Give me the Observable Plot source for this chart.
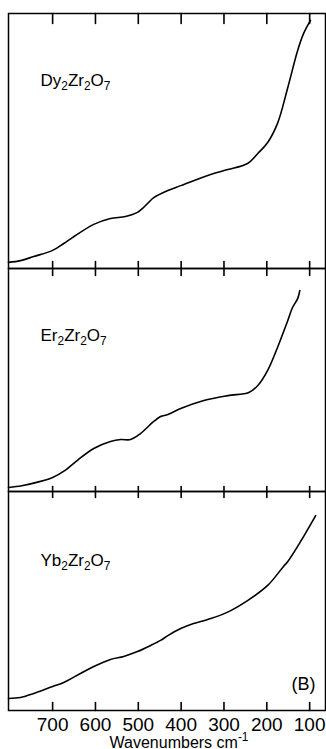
<!DOCTYPE html>
<html><head><meta charset="utf-8">
<script src="https://cdn.jsdelivr.net/npm/d3@7"></script>
<script src="https://cdn.jsdelivr.net/npm/@observablehq/plot@0.6"></script>
<style>
html,body{margin:0;padding:0;background:#fff;}
#chart{width:326px;}
#chart svg{display:block;overflow:visible;}
</style></head><body><div id="chart"></div>
<script>
const xTicks = [700, 600, 500, 400, 300, 200, 100];
const xDomain = [803, 63];

const dyWavenumber = [803,775,744,700,674,653,604,565,530,502,488,476,464,431,401,331,291,245,221,198,175,151,128,114,98];
const dyTransmission = [2.4,3.1,4.7,7.1,9.8,12.2,17.3,19.6,20.4,22.0,23.9,25.9,27.8,30.6,32.5,36.9,38.8,41.2,45.1,49.4,56.9,71.0,85.5,92.2,97.3];

const erWavenumber = [803,772,735,700,670,642,604,565,541,518,495,464,448,431,401,347,291,242,221,198,175,151,140,128,123];
const erTransmission = [1.8,2.6,4.2,6.3,9.6,14.0,19.3,22.4,23.3,23.3,26.0,31.4,33.6,34.5,37.2,40.8,43.0,44.4,47.5,54.3,64.6,76.7,82.5,86.5,90.1];

const ybWavenumber = [803,775,744,700,674,635,604,565,534,502,471,448,431,401,371,338,294,245,198,161,151,121,86];
const ybTransmission = [5.5,5.9,7.8,11.0,12.8,16.9,20.1,23.3,24.7,26.9,29.7,32.0,34.2,37.4,39.7,41.6,44.7,50.2,57.1,65.8,68.0,77.2,89.0];

const panelLabels = ["Dy₂Zr₂O₇", "Er₂Zr₂O₇", "Yb₂Zr₂O₇"];
const panelTag = "(B)";
const xLabel = "Wavenumbers cm⁻¹";

const font = "'Liberation Sans', Arial, Helvetica, sans-serif";

function panel(o) {
  const data = o.wave.map((w, i) => ({w, t: o.value[i]}));
  const inner = o.height - o.marginTop - o.marginBottom;
  // tick lengths expressed in y-scale units (domain 0..100 spans the panel)
  const topLen = o.topTick / inner * 100;
  const botLen = o.bottomTick / inner * 100;
  const tickRows = xTicks.flatMap(w => [
    {w, t: 100, k: "top" + w}, {w, t: 100 - topLen, k: "top" + w},
    {w, t: 0, k: "bot" + w}, {w, t: botLen, k: "bot" + w}
  ]);
  const marks = [
    Plot.frame({stroke: "black", strokeWidth: 1.5}),
    Plot.line(tickRows, {x: "w", y: "t", z: "k", stroke: "black", strokeWidth: 1.6}),
    Plot.line(data, {x: "w", y: "t", curve: "catmull-rom", stroke: "black", strokeWidth: 1.6}),
    Plot.text([o.label], {frameAnchor: "top-left", textAnchor: "start", lineAnchor: "bottom", dx: 32, dy: o.labelDy, fontSize: 17, fill: "black"})
  ];
  if (o.extra) marks.push(...o.extra);
  return Plot.plot({
    width: 326,
    height: o.height,
    marginLeft: 8,
    marginRight: 1,
    marginTop: o.marginTop,
    marginBottom: o.marginBottom,
    x: {domain: xDomain, axis: null},
    y: {domain: [0, 100], axis: null},
    style: {fontFamily: font, fontSize: "17px", background: "transparent", overflow: "visible", color: "black"},
    marks
  });
}

const chart = document.getElementById("chart");
chart.append(panel({wave: dyWavenumber, value: dyTransmission, label: panelLabels[0], height: 268, marginTop: 13, marginBottom: 0, topTick: 10, bottomTick: 7, labelDy: 72}));
chart.append(panel({wave: erWavenumber, value: erTransmission, label: panelLabels[1], height: 223, marginTop: 0, marginBottom: 0, topTick: 7, bottomTick: 5, labelDy: 72}));
chart.append(panel({wave: ybWavenumber, value: ybTransmission, label: panelLabels[2], height: 258, marginTop: 0, marginBottom: 39, topTick: 6, bottomTick: 8, labelDy: 74,
  extra: [
    Plot.axisX(xTicks, {anchor: "bottom", tickSize: 0, tickPadding: 7, fontSize: 19, label: null, tickFormat: d => String(d), fill: "black"}),
    Plot.text([panelTag], {frameAnchor: "bottom-right", textAnchor: "end", lineAnchor: "bottom", dx: -10, dy: -21, fontSize: 18, fill: "black"}),
    Plot.text([xLabel], {frameAnchor: "bottom", lineAnchor: "bottom", dx: 12, dy: 37, fontSize: 16, fill: "black"})
  ]}));

// Typeset Unicode subscript / superscript characters as shifted tspans
const subMap = {"₀":"0","₁":"1","₂":"2","₃":"3","₄":"4","₅":"5","₆":"6","₇":"7","₈":"8","₉":"9"};
const supMap = {"⁻":"-","¹":"1"};
chart.querySelectorAll("text").forEach(t => {
  if (t.children.length) return;
  const s = t.textContent;
  if (![...s].some(c => subMap[c] || supMap[c])) return;
  const fs = parseFloat(t.getAttribute("font-size")) || 17;
  t.textContent = "";
  let shift = 0;
  const runs = [];
  for (const c of s) {
    const kind = subMap[c] ? "sub" : supMap[c] ? "sup" : "n";
    const ch = subMap[c] || supMap[c] || c;
    if (runs.length && runs[runs.length - 1].kind === kind) runs[runs.length - 1].text += ch;
    else runs.push({kind, text: ch});
  }
  for (const r of runs) {
    const ts = document.createElementNS("http://www.w3.org/2000/svg", "tspan");
    const target = r.kind === "sub" ? fs * 0.28 : r.kind === "sup" ? -fs * 0.4 : 0;
    ts.setAttribute("dy", String(target - shift));
    shift = target;
    if (r.kind !== "n") ts.setAttribute("font-size", String(fs * 0.7));
    ts.textContent = r.text;
    t.appendChild(ts);
  }
});
</script></body></html>
